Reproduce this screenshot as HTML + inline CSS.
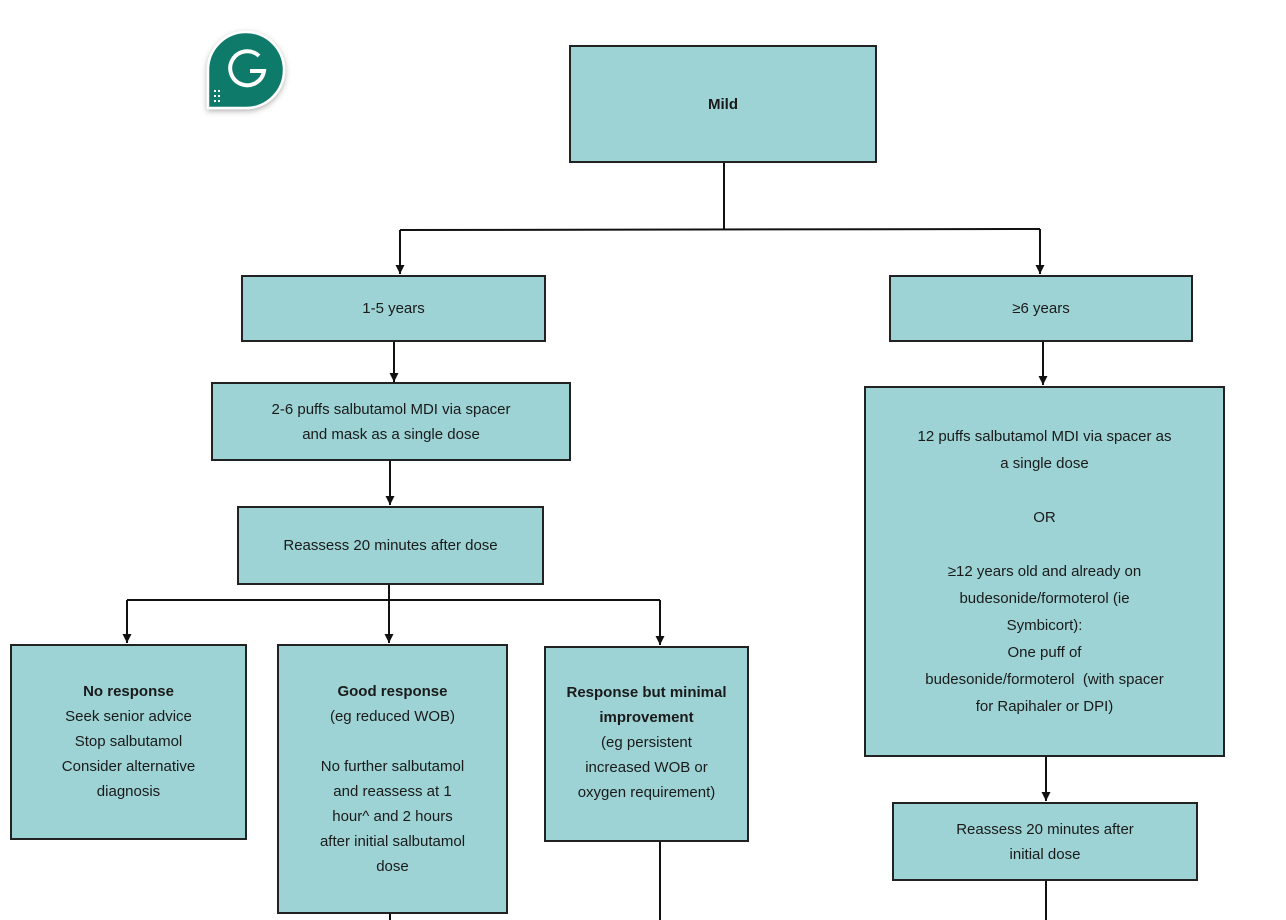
<!DOCTYPE html>
<html><head><meta charset="utf-8"><style>
body{margin:0;width:1286px;height:920px;background:#fff;position:relative;overflow:hidden;font-family:"Liberation Sans",sans-serif;color:#1a1a1a}
.b{position:absolute;background:#9dd3d5;border:2px solid #222;box-sizing:border-box;display:flex;align-items:center;justify-content:center;text-align:center;font-size:15px;line-height:25px}
svg{position:absolute;left:0;top:0}
</style></head><body>
<svg width="1286" height="920">
<defs><marker id="a" markerWidth="9" markerHeight="9" refX="9" refY="4.5" orient="auto" markerUnits="userSpaceOnUse"><path d="M0,0 L9,4.5 L0,9z" fill="#111"/></marker>
<filter id="s" x="-30%" y="-30%" width="160%" height="160%"><feDropShadow dx="0" dy="2" stdDeviation="3" flood-opacity="0.3"/></filter></defs>
<g stroke="#111" stroke-width="2" fill="none">
<line x1="724" y1="162" x2="724" y2="229"/>
<line x1="400" y1="230" x2="1040" y2="229"/>
<line x1="400" y1="230" x2="400" y2="274" marker-end="url(#a)"/>
<line x1="1040" y1="229" x2="1040" y2="274" marker-end="url(#a)"/>
<line x1="394" y1="341" x2="394" y2="382" marker-end="url(#a)"/>
<line x1="390" y1="460" x2="390" y2="505" marker-end="url(#a)"/>
<line x1="389" y1="584" x2="389" y2="600"/>
<line x1="127" y1="600" x2="660" y2="600"/>
<line x1="127" y1="600" x2="127" y2="643" marker-end="url(#a)"/>
<line x1="389" y1="600" x2="389" y2="643" marker-end="url(#a)"/>
<line x1="660" y1="600" x2="660" y2="645" marker-end="url(#a)"/>
<line x1="390" y1="913" x2="390" y2="920"/>
<line x1="660" y1="841" x2="660" y2="920"/>
<line x1="1043" y1="341" x2="1043" y2="385" marker-end="url(#a)"/>
<line x1="1046" y1="756" x2="1046" y2="801" marker-end="url(#a)"/>
<line x1="1046" y1="880" x2="1046" y2="920"/>
</g>
<path d="M246,32 a38,38 0 1 1 0,76 L208,108 L208,70 a38,38 0 0 1 38,-38z" fill="#0f7a6b" stroke="#fff" stroke-width="2.5" filter="url(#s)"/>
<path d="M259,56 a17,17 0 1 0 5,15 L250,71" stroke="#fff" stroke-width="4" fill="none"/>
<g fill="#fff"><rect x="214" y="90" width="2" height="2"/><rect x="218" y="90" width="2" height="2"/><rect x="214" y="95" width="2" height="2"/><rect x="218" y="95" width="2" height="2"/><rect x="214" y="100" width="2" height="2"/><rect x="218" y="100" width="2" height="2"/></g>
</svg>
<div class="b" style="left:569px;top:45px;width:308px;height:118px"><b>Mild</b></div>
<div class="b" style="left:241px;top:275px;width:305px;height:67px">1-5 years</div>
<div class="b" style="left:889px;top:275px;width:304px;height:67px">≥6 years</div>
<div class="b" style="left:211px;top:382px;width:360px;height:79px">2-6 puffs salbutamol MDI via spacer<br>and mask as a single dose</div>
<div class="b" style="left:237px;top:506px;width:307px;height:79px">Reassess 20 minutes after dose</div>
<div class="b" style="left:10px;top:644px;width:237px;height:196px;align-items:flex-start"><div style="margin-top:33px"><b>No response</b><br>Seek senior advice<br>Stop salbutamol<br>Consider alternative<br>diagnosis</div></div>
<div class="b" style="left:277px;top:644px;width:231px;height:270px;align-items:flex-start"><div style="margin-top:33px"><b>Good response</b><br>(eg reduced WOB)<br><br>No further salbutamol<br>and reassess at 1<br>hour^ and 2 hours<br>after initial salbutamol<br>dose</div></div>
<div class="b" style="left:544px;top:646px;width:205px;height:196px;align-items:flex-start"><div style="margin-top:32px"><b>Response but minimal<br>improvement</b><br>(eg persistent<br>increased WOB or<br>oxygen requirement)</div></div>
<div class="b" style="left:864px;top:386px;width:361px;height:371px;align-items:flex-start"><div style="margin-top:35px;line-height:27px">12 puffs salbutamol MDI via spacer as<br>a single dose<br><br>OR<br><br>≥12 years old and already on<br>budesonide/formoterol (ie<br>Symbicort):<br>One puff of<br>budesonide/formoterol &nbsp;(with spacer<br>for Rapihaler or DPI)</div></div>
<div class="b" style="left:892px;top:802px;width:306px;height:79px">Reassess 20 minutes after<br>initial dose</div>
</body></html>
